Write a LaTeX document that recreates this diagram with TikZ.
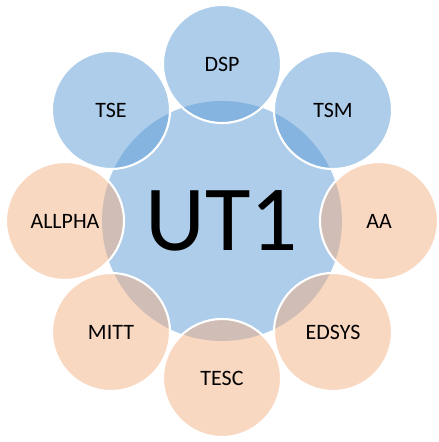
\documentclass[tikz,border=0pt]{standalone}
\usepackage{fontspec}
\setmainfont{Carlito}
\definecolor{ubl}{HTML}{5B9BD5}
\definecolor{uor}{HTML}{F4B183}

\begin{document}
\begin{tikzpicture} [
    core/.style     = { circle, fill=ubl, fill opacity=0.5, text opacity=1,
                        minimum size=48mm, inner sep=0pt,
                        font=\fontsize{53}{60}\selectfont },
    sat/.style      = { circle, draw=white, line width=1.2pt, fill opacity=0.5,
                        draw opacity=1, text opacity=1, minimum size=23.6mm,
                        inner sep=0pt, font=\fontsize{12.5}{15}\selectfont },
    blue/.style     = { sat, fill=ubl },
    orange/.style   = { sat, fill=uor },
  ]
  \useasboundingbox (-4.44,-4.42) rectangle (4.32,4.42);

  % central node
  \node[core] (ut1) at (0,0) {UT1};

  % nodes around it
  \node[blue]   (dsp)    at (90:3.14)   {DSP};
  \node[blue]   (tsm)    at (45:3.14)   {TSM};
  \node[orange] (aa)     at (0:3.14)    {AA};
  \node[orange] (edsys)  at (-45:3.14)  {EDSYS};
  \node[orange] (tesc)   at (-90:3.14)  {TESC};
  \node[orange] (mitt)   at (-135:3.14) {MITT};
  \node[orange] (allpha) at (180:3.14)  {ALLPHA};
  \node[blue]   (tse)    at (135:3.14)  {TSE};
\end{tikzpicture}
\end{document}
